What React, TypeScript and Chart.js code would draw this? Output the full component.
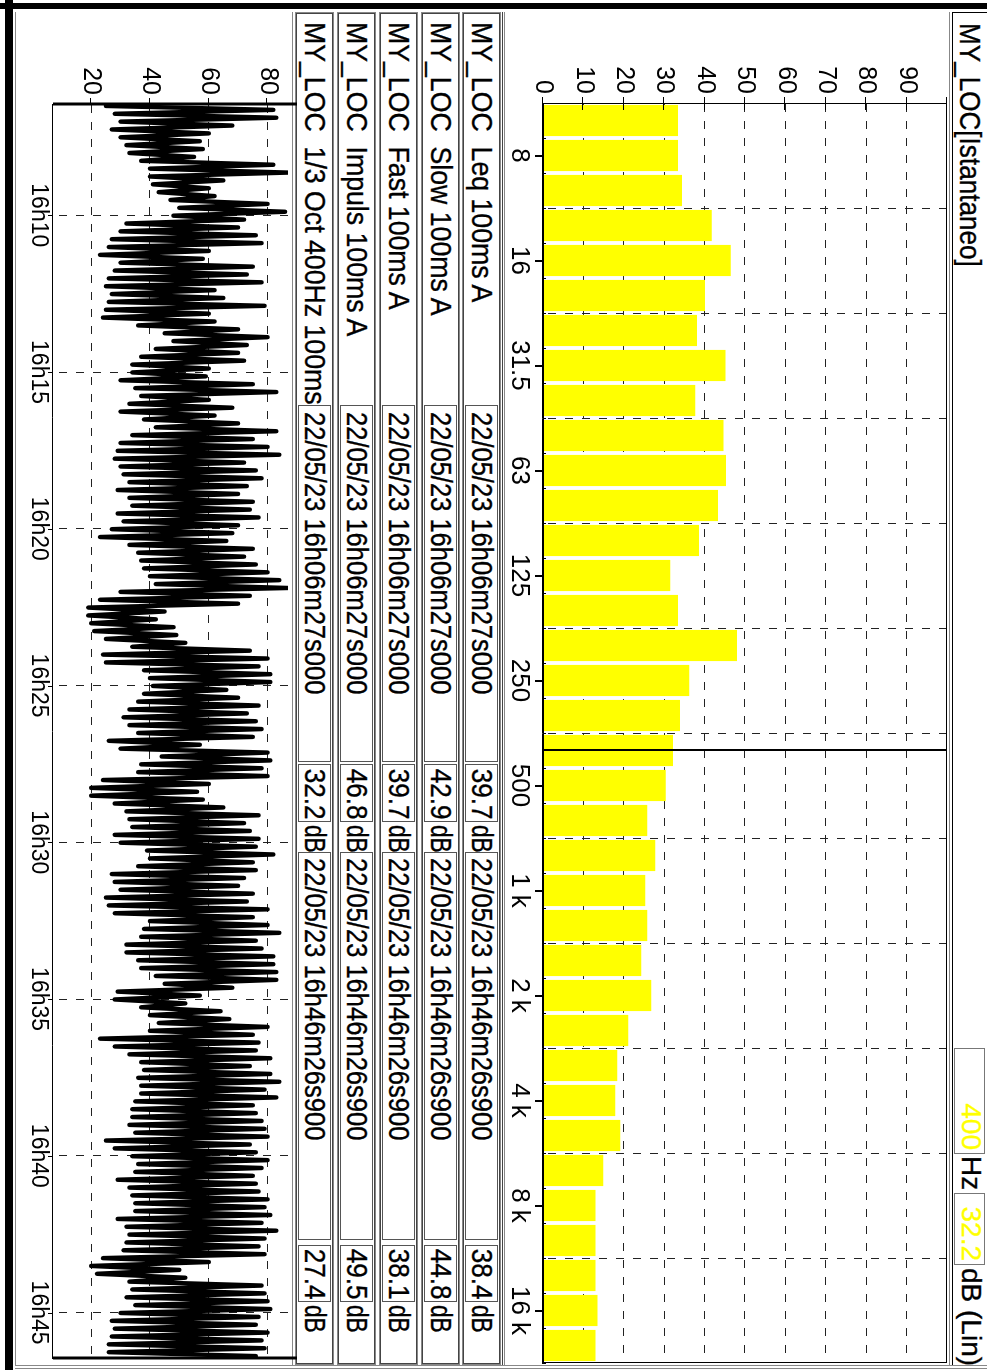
import React, { useEffect, useRef } from "react";
import { Chart, registerables } from "chart.js";
Chart.register(...registerables);

const FONT = "'Liberation Sans', Arial, Helvetica, sans-serif";

// ---------- spectrum (1/3 octave) ----------
const bandLabels = ["6.3","8","10","12.5","16","20","25","31.5","40","50","63","80","100","125","160","200","250","315","400","500","630","800","1 k","1.25 k","1.6 k","2 k","2.5 k","3.15 k","4 k","5 k","6.3 k","8 k","10 k","12.5 k","16 k","20 k"];
const labelledBands = ["8","16","31.5","63","125","250","500","1 k","2 k","4 k","8 k","16 k"];
const bandLevels = [33.4,33.4,34.4,41.8,46.5,40.1,38.1,45.2,37.7,44.7,45.3,43.3,38.6,31.5,33.4,48.0,36.2,33.9,32.2,30.4,25.8,27.8,25.3,25.8,24.3,26.8,21.1,18.4,17.9,19.1,14.9,13.0,13.0,13.0,13.5,13.0];
const levelTicks = [0,10,20,30,40,50,60,70,80,90];
const levelMax = 100;
const cursorBand = "400";
const cursorLevel = "32.2";
const cursorUnit = "dB (Lin)";
const titleText = "MY_LOC[Istantaneo]";

// ---------- time history ----------
const historyStartClock = "16h06m27s000";
const historyEndClock = "16h46m26s900";
const historySegmentSeconds = 15;
const historyLow = [25,28,30,27,30,32,33,37,40,40,41,43,47,50,48,32,30,27,26,23,30,28,26,25,27,26,25,24,36,45,48,42,37,34,34,30,35,37,33,30,38,42,34,30,29,28,30,31,33,29,33,34,29,31,27,23,33,36,37,38,40,42,30,23,19,19,20,21,25,34,24,25,38,40,41,38,36,33,31,33,36,26,30,44,37,36,24,20,20,28,32,33,34,28,30,39,40,36,27,28,30,25,26,28,40,38,37,32,32,36,37,42,45,29,28,37,40,43,40,23,28,33,37,38,36,37,37,35,34,34,33,35,25,28,34,36,35,29,33,34,35,35,29,32,33,32,31,24,20,22,33,34,32,35,30,27,28,27,26,26];
const historyHigh = [82,83,68,60,57,58,55,82,87,65,60,62,80,86,72,70,76,78,60,58,75,73,78,62,65,79,60,62,70,80,73,70,72,60,59,75,83,60,68,62,70,83,75,80,84,72,76,78,73,70,75,74,77,70,68,66,75,72,76,80,84,87,74,70,45,42,48,49,52,74,80,77,81,81,66,70,77,73,76,78,75,57,80,81,78,80,60,56,58,65,77,72,74,77,76,82,75,76,72,70,75,73,80,75,80,84,76,78,82,82,83,83,68,57,52,64,67,80,75,77,76,81,74,81,84,79,83,75,76,78,79,80,74,76,80,78,75,76,77,80,79,81,78,83,79,77,79,60,50,52,78,79,80,81,77,76,80,78,79,76];
const historyTickLabels = ["16h10","16h15","16h20","16h25","16h30","16h35","16h40","16h45"];
const historyLevelTicks = [20,40,60,80];
const historyMin = 7;
const historyMax = 87;

// ---------- table ----------
const tableNames = ["MY_LOC  Leq 100ms A","MY_LOC  Slow 100ms A","MY_LOC  Fast 100ms A","MY_LOC  Impuls 100ms A","MY_LOC  1/3 Oct 400Hz 100ms"];
const tableStart = "22/05/23 16h06m27s000";
const tableEnd = "22/05/23 16h46m26s900";
const tableFirst = ["39.7","42.9","39.7","46.8","32.2"];
const tableSecond = ["38.4","44.8","38.1","49.5","27.4"];
const tableUnit = "dB";

// ---------- helpers ----------
const W = 1370;
const H = 987;

function clockToMinutes(c: string): number {
  const m = c.match(/(\d+)h(\d+)(?:m(\d+)s(\d+))?/);
  if (!m) return 0;
  const h = +m[1], mi = +m[2], s = m[3] ? +m[3] : 0, ms = m[4] ? +m[4] : 0;
  return h * 60 + mi + s / 60 + ms / 60000;
}

function T({ x, base, size, text, color = "#000", anchor = "start", sx = 1 }: any) {
  const style: any = {
    position: "absolute",
    top: base - 0.8465 * size,
    fontSize: size,
    lineHeight: `${size}px`,
    whiteSpace: "pre",
    color,
    fontFamily: FONT,
    transform: `scaleX(${sx})`,
    transformOrigin: anchor === "end" ? "right center" : "left center",
    WebkitTextStroke: `0.35px ${color}`,
  };
  if (anchor === "end") style.right = W - x;
  else style.left = x;
  return <div style={style}>{text}</div>;
}

function R({ x, y, w, h, bg, border }: any) {
  const style: any = { position: "absolute", left: x, top: y, width: w, height: h, boxSizing: "border-box" };
  if (bg) style.background = bg;
  if (border) style.border = border;
  return <div style={style} />;
}

const rowTops = [486, 527, 569, 611, 653];
const rowH = 39;

export default function App() {
  const barRef = useRef<HTMLCanvasElement>(null);
  const timeRef = useRef<HTMLCanvasElement>(null);

  useEffect(() => {
    const line = (ctx: any, x1: number, y1: number, x2: number, y2: number) => {
      ctx.beginPath();
      ctx.moveTo(x1, y1);
      ctx.lineTo(x2, y2);
      ctx.stroke();
    };
    const noPad = (s: any) => {
      s.paddingTop = 0;
      s.paddingBottom = 0;
      s.paddingLeft = 0;
      s.paddingRight = 0;
    };

    const barDecor = {
      id: "barDecor",
      afterDraw(chart: any) {
        const { ctx, chartArea: a, scales } = chart;
        const x = scales.x, y = scales.y;
        ctx.save();
        ctx.strokeStyle = "#000";
        ctx.lineWidth = 1;
        ctx.strokeRect(a.left + 0.5, a.top + 0.5, a.right - a.left - 1, a.bottom - a.top - 1);
        for (let v = 0; v <= levelMax; v += 10) {
          const py = Math.round(y.getPixelForValue(v)) + 0.5;
          line(ctx, a.left - 6, py, a.left + 7, py);
        }
        for (let i = 0; i <= bandLabels.length; i++) {
          const px = Math.round(x.getPixelForValue(i - 0.5)) + 0.5;
          line(ctx, px, a.bottom, px, a.bottom - 3);
        }
        ctx.lineWidth = 2;
        bandLabels.forEach((b, i) => {
          if (labelledBands.includes(b)) {
            const px = Math.round(x.getPixelForValue(i));
            line(ctx, px, a.bottom, px, a.bottom + 8);
          }
        });
        const cx = Math.round(x.getPixelForValue(bandLabels.indexOf(cursorBand)));
        line(ctx, cx, a.top, cx, a.bottom);
        ctx.restore();
      },
    };

    const bar = new Chart(barRef.current as HTMLCanvasElement, {
      type: "bar",
      data: {
        labels: bandLabels,
        datasets: [
          {
            data: bandLevels,
            backgroundColor: "#ffff00",
            borderWidth: 0,
            barPercentage: 0.89,
            categoryPercentage: 1,
          },
        ],
      },
      options: {
        animation: false,
        responsive: false,
        devicePixelRatio: 1,
        events: [],
        layout: { padding: { top: 6, right: 7, left: 0, bottom: 0 } },
        plugins: { legend: { display: false }, tooltip: { enabled: false } },
        scales: {
          x: {
            offset: true,
            z: 1,
            grid: {
              offset: true,
              drawTicks: false,
              lineWidth: 1,
              color: (c: any) => (c.index > 0 && c.index < bandLabels.length && c.index % 3 === 0 ? "#222" : "rgba(0,0,0,0)"),
            },
            border: { display: true, color: "#000", width: 1, dash: [8, 9] },
            ticks: {
              autoSkip: false,
              maxRotation: 0,
              minRotation: 0,
              padding: 8,
              color: "#000",
              font: { family: FONT, size: 26 },
              callback: (_v: any, i: number) => (labelledBands.includes(bandLabels[i]) ? bandLabels[i] : ""),
            },
            afterFit: (s: any) => {
              s.height = 38;
              noPad(s);
            },
          },
          y: {
            min: 0,
            max: levelMax,
            z: 1,
            afterBuildTicks: (s: any) => {
              s.ticks = [...levelTicks, levelMax].map((v) => ({ value: v }));
            },
            ticks: {
              padding: 9,
              color: "#000",
              font: { family: FONT, size: 25 },
              callback: (v: any) => (levelTicks.includes(v) ? String(v) : ""),
            },
            grid: {
              drawTicks: false,
              color: (c: any) => (c.tick && c.tick.value > 0 && c.tick.value < levelMax ? "#222" : "rgba(0,0,0,0)"),
            },
            border: { display: true, color: "#000", width: 1, dash: [8, 9] },
            afterFit: (s: any) => {
              s.width = 103;
              noPad(s);
            },
          },
        },
      },
      plugins: [barDecor],
    } as any);

    const startMin = clockToMinutes(historyStartClock);
    const endMin = clockToMinutes(historyEndClock);
    const tickMinutes = historyTickLabels.map((l) => clockToMinutes(l));
    const points: { x: number; y: number }[] = [];
    historyLow.forEach((lo, k) => {
      points.push({ x: startMin + (k * historySegmentSeconds + historySegmentSeconds * 0.25) / 60, y: lo });
      points.push({ x: startMin + (k * historySegmentSeconds + historySegmentSeconds * 0.75) / 60, y: historyHigh[k] });
    });

    const timeDecor = {
      id: "timeDecor",
      afterDraw(chart: any) {
        const { ctx, chartArea: a, scales } = chart;
        const x = scales.x, y = scales.y;
        ctx.save();
        ctx.strokeStyle = "#000";
        ctx.lineWidth = 1;
        historyLevelTicks.forEach((v) => {
          const py = Math.round(y.getPixelForValue(v)) + 0.5;
          line(ctx, a.left - 6, py, a.left, py);
        });
        tickMinutes.forEach((m) => {
          const px = Math.round(x.getPixelForValue(m)) + 0.5;
          line(ctx, px, a.bottom, px, a.bottom + 5);
        });
        ctx.lineWidth = 3;
        [startMin, endMin].forEach((m) => {
          const px = Math.round(x.getPixelForValue(m));
          line(ctx, px, a.bottom, px, a.top - 9);
        });
        ctx.restore();
      },
    };

    const time = new Chart(timeRef.current as HTMLCanvasElement, {
      type: "line",
      data: {
        datasets: [
          {
            data: points,
            borderColor: "#000",
            borderWidth: 4.4,
            pointRadius: 0,
            tension: 0,
            fill: false,
            borderJoinStyle: "round",
            borderCapStyle: "round",
          },
        ],
      },
      options: {
        animation: false,
        responsive: false,
        devicePixelRatio: 1,
        events: [],
        layout: { padding: { top: 9, right: 12, left: 0, bottom: 0 } },
        plugins: { legend: { display: false }, tooltip: { enabled: false } },
        scales: {
          x: {
            type: "linear",
            min: startMin,
            max: endMin,
            afterBuildTicks: (s: any) => {
              s.ticks = tickMinutes.map((v) => ({ value: v }));
            },
            ticks: {
              autoSkip: false,
              maxRotation: 0,
              padding: 1,
              color: "#000",
              font: { family: FONT, size: 23 },
              callback: (_v: any, i: number) => historyTickLabels[i],
            },
            grid: { drawTicks: false, color: "#222" },
            border: { display: true, color: "#000", width: 1, dash: [8, 9] },
            afterFit: (s: any) => {
              s.height = 41;
              noPad(s);
            },
          },
          y: {
            min: historyMin,
            max: historyMax,
            afterBuildTicks: (s: any) => {
              s.ticks = historyLevelTicks.map((v) => ({ value: v }));
            },
            ticks: {
              padding: 9,
              color: "#000",
              font: { family: FONT, size: 25 },
              callback: (v: any) => String(v),
            },
            grid: { drawTicks: false, color: "#222" },
            border: { display: true, color: "#000", width: 1, dash: [8, 9] },
            afterFit: (s: any) => {
              s.width = 104;
              noPad(s);
            },
          },
        },
      },
      plugins: [timeDecor],
    } as any);

    return () => {
      bar.destroy();
      time.destroy();
    };
  }, []);

  return (
    <div style={{ position: "fixed", left: 0, top: 0, width: 987, height: 1370, overflow: "hidden", background: "#fff" }}>
      <div
        style={{
          position: "absolute",
          left: 0,
          top: 0,
          width: W,
          height: H,
          transformOrigin: "0 0",
          transform: "translate(987px, 0px) rotate(90deg)",
          background: "#fff",
          fontFamily: FONT,
        }}
      >
        {/* outer frame */}
        <R x={3} y={0} w={6} h={H} bg="#000" />
        <R x={0} y={974} w={W} h={8} bg="#000" />
        <R x={12} y={0} w={1} h={34} bg="#000" />
        <R x={12} y={34} w={1353} h={1} bg="#000" />
        <R x={12} y={37} w={1353} h={1} bg="#888" />
        <R x={1365} y={0} w={1} h={972} bg="#888" />
        <R x={1368} y={0} w={1} h={972} bg="#888" />
        <R x={12} y={482} w={1353} h={1} bg="#888" />
        <R x={12} y={484} w={1353} h={1} bg="#444" />
        <R x={12} y={694} w={1353} h={1} bg="#888" />
        <R x={12} y={971} w={1353} h={1} bg="#888" />

        {/* title & cursor readout */}
        <T x={23} base={28} size={29} text={titleText} sx={0.9} />
        <R x={1048} y={2} w={106} h={31} border="1px solid #777" />
        <T x={1150} base={26} size={28} text={cursorBand} color="#ffff00" anchor="end" />
        <T x={1156} base={26} size={28} text="Hz" />
        <R x={1193} y={2} w={72} h={31} border="1px solid #777" />
        <T x={1261} base={26} size={28} text={cursorLevel} color="#ffff00" anchor="end" />
        <T x={1268} base={26} size={28} text={cursorUnit} />

        {/* bar chart */}
        <canvas ref={barRef} width={1370} height={448} style={{ position: "absolute", left: 0, top: 34, width: 1370, height: 448 }} />

        {/* table */}
        {tableNames.map((name, i) => {
          const t = rowTops[i];
          return (
            <React.Fragment key={i}>
              <R x={12} y={t} w={1353} h={rowH} border="1px solid #888" />
              <R x={13} y={t + 1} w={1351} h={rowH - 2} border="1px solid #444" />
              <T x={22} base={t + 30} size={29} text={name} sx={0.92} />
              <R x={405} y={t + 3} w={357} h={rowH - 6} border="1px solid #555" />
              <T x={412} base={t + 30} size={29} text={tableStart} sx={0.88} />
              <R x={764} y={t + 3} w={58} h={rowH - 6} border="1px solid #555" />
              <T x={819} base={t + 30} size={29} text={tableFirst[i]} anchor="end" sx={0.9} />
              <T x={825} base={t + 30} size={29} text={tableUnit} sx={0.78} />
              <R x={852} y={t + 3} w={388} h={rowH - 6} border="1px solid #555" />
              <T x={858} base={t + 30} size={29} text={tableEnd} sx={0.88} />
              <R x={1245} y={t + 3} w={57} h={rowH - 6} border="1px solid #555" />
              <T x={1299} base={t + 30} size={29} text={tableSecond[i]} anchor="end" sx={0.9} />
              <T x={1305} base={t + 30} size={29} text={tableUnit} sx={0.78} />
            </React.Fragment>
          );
        })}

        {/* time history */}
        <canvas ref={timeRef} width={1370} height={285} style={{ position: "absolute", left: 0, top: 690, width: 1370, height: 285 }} />
      </div>
    </div>
  );
}
